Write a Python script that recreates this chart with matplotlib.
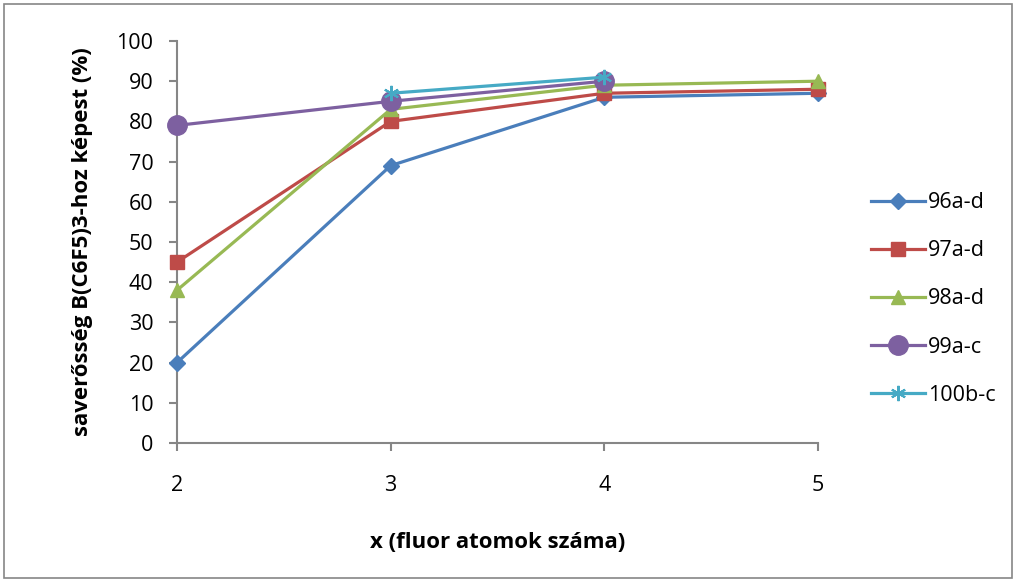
import matplotlib
matplotlib.use("Agg")
import matplotlib.pyplot as plt
from matplotlib.patches import Rectangle
from matplotlib.lines import Line2D

plt.rcParams['font.family'] = ['Open Sans', 'DejaVu Sans']

# Data
x_ticks = [2, 3, 4, 5]
series_names = ["96a-d", "97a-d", "98a-d", "99a-c", "100b-c"]
x_96 = [2, 3, 4, 5]
y_96 = [20, 69, 86, 87]
x_97 = [2, 3, 4, 5]
y_97 = [45, 80, 87, 88]
x_98 = [2, 3, 4, 5]
y_98 = [38, 83, 89, 90]
x_99 = [2, 3, 4]
y_99 = [79, 85, 90]
x_100 = [3, 4]
y_100 = [87, 91]
y_ticks = [0, 10, 20, 30, 40, 50, 60, 70, 80, 90, 100]

colors = ["#4a7ebb", "#be4b48", "#98b954", "#7d60a0", "#46aac5"]
markers = ["D", "s", "^", "o", "*"]
msizes = [8.5, 9.5, 10.5, 14, 11]

fig = plt.figure(figsize=(10.16, 5.82), dpi=100)
ax = fig.add_axes([177/1016, 1-443/582, (818-177)/1016, (443-41)/582])

data = [(x_96, y_96), (x_97, y_97), (x_98, y_98), (x_99, y_99), (x_100, y_100)]
for (xs, ys), name, c, m, ms in zip(data, series_names, colors, markers, msizes):
    if m == "*":
        ax.plot(xs, ys, color=c, lw=2.3, zorder=3, clip_on=False)
        ax.plot(xs, ys, linestyle="none", marker=(6, 2, 0), color=c, ms=ms, mew=1.5,
                zorder=4, clip_on=False)
    else:
        ax.plot(xs, ys, color=c, lw=2.3, marker=m, ms=ms, mec=c, mfc=c, zorder=3,
                clip_on=False)

ax.set_xlim(2, 5)
ax.set_ylim(0, 100)
ax.set_xticks(x_ticks)
ax.set_yticks(y_ticks)
for s in ["top", "right"]:
    ax.spines[s].set_visible(False)
for s in ["left", "bottom"]:
    ax.spines[s].set_color("#868686")
    ax.spines[s].set_linewidth(1.5)
ax.tick_params(axis="both", direction="out", color="#868686", width=1.5, length=6,
               labelsize=15.5, labelcolor="black")
ax.tick_params(axis="x", pad=17)
ax.tick_params(axis="y", pad=11)

ax.set_xlabel("x (fluor atomok száma)", fontsize=16, fontweight="bold", labelpad=26)
ax.set_ylabel("saverősség B(C6F5)3-hoz képest (%)", fontsize=16, fontweight="bold",
              labelpad=17)

# Legend handles
handles = []
for name, c, m, ms in zip(series_names, colors, markers, msizes):
    if m == "*":
        h = Line2D([], [], color=c, lw=2.3, marker=(6, 2, 0), ms=ms, mew=1.5)
    else:
        h = Line2D([], [], color=c, lw=2.3, marker=m, ms=ms, mec=c, mfc=c)
    handles.append(h)
leg = fig.legend(handles, series_names, loc="center left",
                 bbox_to_anchor=(871/1016, 1-299/582), frameon=False, fontsize=15.5,
                 labelspacing=1.26, handlelength=2.5, handletextpad=0.15,
                 borderpad=0, borderaxespad=0)

fig.patches.append(Rectangle((4/1016, 4/582), 1008/1016, 574/582, transform=fig.transFigure,
                             fill=False, edgecolor="#868686", lw=1.2))

fig.savefig("out.png", dpi=100)
